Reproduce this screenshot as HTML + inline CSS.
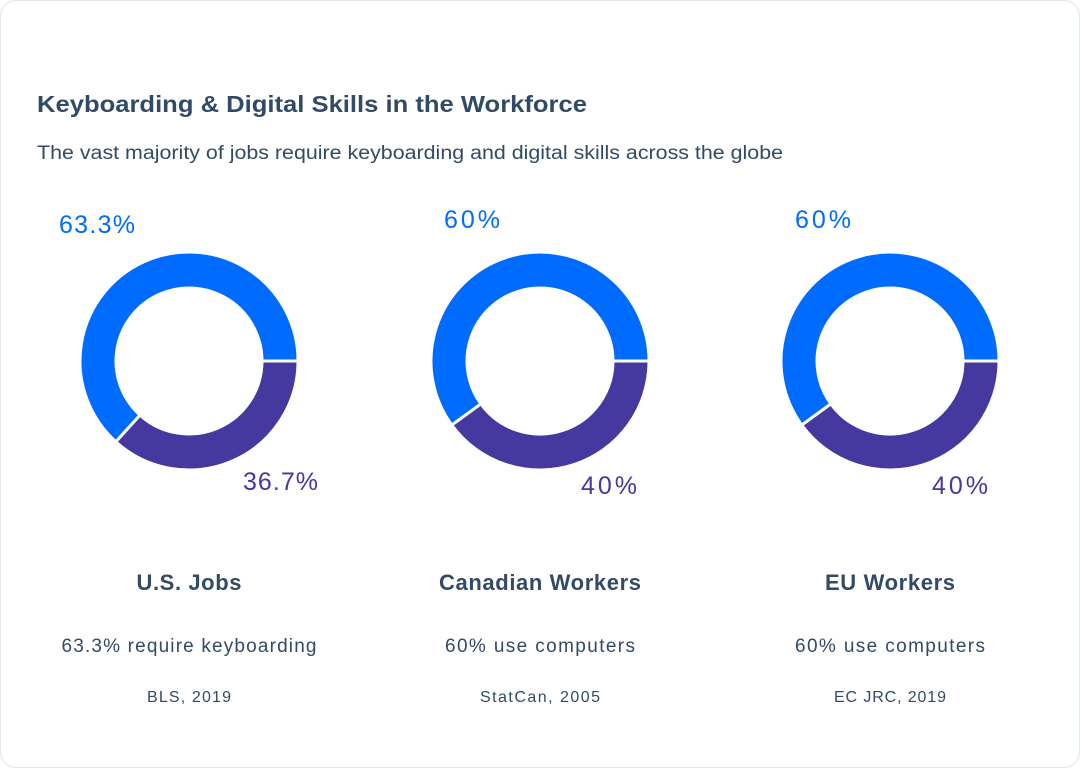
<!DOCTYPE html>
<html><head><meta charset="utf-8"><style>
html,body{margin:0;padding:0;background:#fff;}
body{width:1080px;height:768px;overflow:hidden;font-family:"Liberation Sans",sans-serif;}
.card{position:absolute;left:0;top:0;width:1078px;height:766px;border:1px solid #e3e6ea;border-radius:16px;background:#fff;}
</style></head><body>
<div class="card"></div>
<svg width="1080" height="768" style="position:absolute;left:0;top:0" font-family="Liberation Sans, sans-serif">
<text x="37" y="112" font-size="23" font-weight="bold" fill="#334a66" textLength="550" lengthAdjust="spacingAndGlyphs">Keyboarding &amp; Digital Skills in the Workforce</text>
<text x="37" y="159" font-size="19" fill="#334a66" textLength="746" lengthAdjust="spacingAndGlyphs">The vast majority of jobs require keyboarding and digital skills across the globe</text>

<g stroke="#fff" stroke-width="3">
<path d="M298,361 A109,109 0 1 0 115.85,441.8 L140,415.1 A73,73 0 1 1 262,361 Z" fill="#006bff"/>
<path d="M298,361 A109,109 0 0 1 115.85,441.8 L140,415.1 A73,73 0 0 0 262,361 Z" fill="#45389f"/>
<path d="M649,361 A109,109 0 1 0 451.8,425.1 L480.9,403.9 A73,73 0 1 1 613,361 Z" fill="#006bff"/>
<path d="M649,361 A109,109 0 0 1 451.8,425.1 L480.9,403.9 A73,73 0 0 0 613,361 Z" fill="#45389f"/>
<path d="M999,361 A109,109 0 1 0 801.8,425.1 L830.9,403.9 A73,73 0 1 1 963,361 Z" fill="#006bff"/>
<path d="M999,361 A109,109 0 0 1 801.8,425.1 L830.9,403.9 A73,73 0 0 0 963,361 Z" fill="#45389f"/>
</g>

<g font-size="25" lengthAdjust="spacingAndGlyphs">
<text x="59" y="233" fill="#006bff" textLength="76">63.3%</text>
<text x="243" y="490" fill="#45389f" textLength="75">36.7%</text>
<text x="444" y="228" fill="#006bff" textLength="56">60%</text>
<text x="581" y="494" fill="#45389f" textLength="56">40%</text>
<text x="795" y="228" fill="#006bff" textLength="56">60%</text>
<text x="932" y="494" fill="#45389f" textLength="56">40%</text>
</g>

<g text-anchor="middle" fill="#334a66" lengthAdjust="spacingAndGlyphs">
<text x="189" y="590" font-size="22" font-weight="bold" textLength="105">U.S. Jobs</text>
<text x="540" y="590" font-size="22" font-weight="bold" textLength="202">Canadian Workers</text>
<text x="890" y="590" font-size="22" font-weight="bold" textLength="130">EU Workers</text>
<text x="189" y="652" font-size="19" textLength="255">63.3% require keyboarding</text>
<text x="540" y="652" font-size="19" textLength="190">60% use computers</text>
<text x="890" y="652" font-size="19" textLength="190">60% use computers</text>
<text x="189" y="702" font-size="16" textLength="84">BLS, 2019</text>
<text x="540" y="702" font-size="16" textLength="120">StatCan, 2005</text>
<text x="890" y="702" font-size="16" textLength="112">EC JRC, 2019</text>
</g>
</svg>
</body></html>
